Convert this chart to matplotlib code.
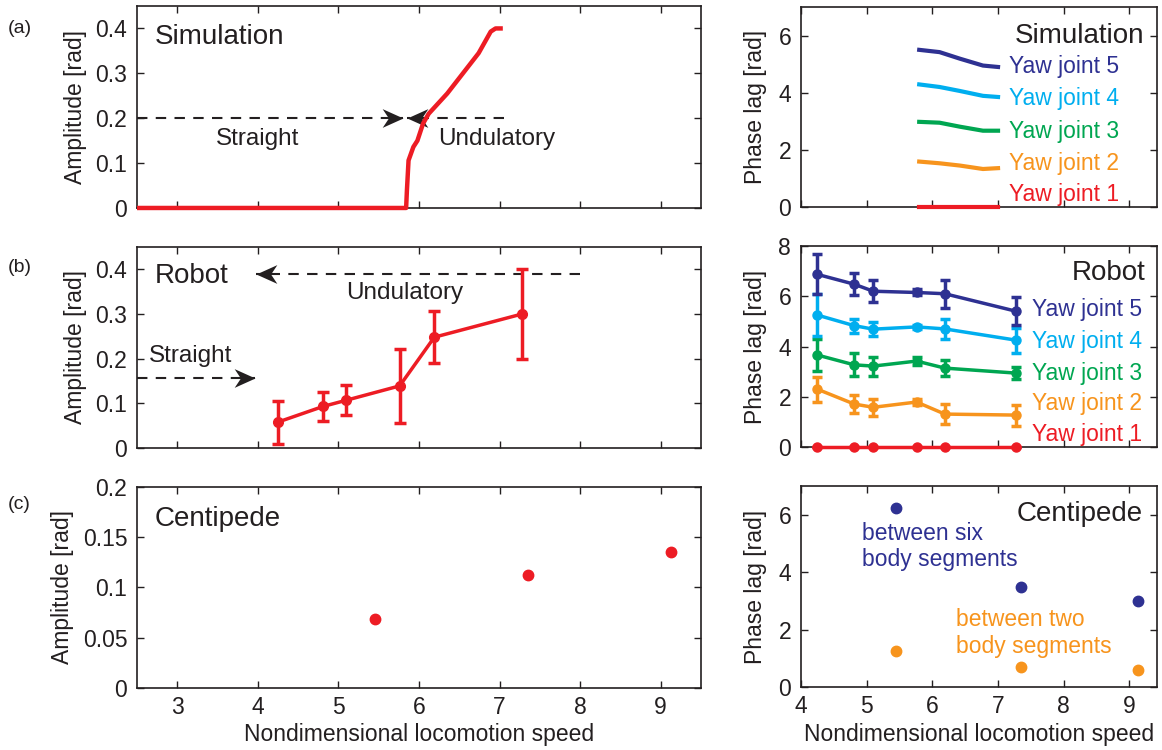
import numpy as np
import matplotlib
matplotlib.use('Agg')
import matplotlib.pyplot as plt
from matplotlib.path import Path

plt.rcParams['font.family'] = ['Liberation Sans', 'DejaVu Sans']

INK = '#231F20'
RED = '#ED1C24'
ORANGE = '#F7941D'
GREEN = '#00A651'
CYAN = '#00AEEF'
NAVY = '#2E3192'
JOINT_COLORS = [RED, ORANGE, GREEN, CYAN, NAVY]
JOINT_NAMES = ['Yaw joint 1', 'Yaw joint 2', 'Yaw joint 3', 'Yaw joint 4', 'Yaw joint 5']

# (a) simulation: amplitude vs speed
sim_speed = [2.5, 5.84, 5.85, 5.87, 5.93, 5.98, 6.05, 6.12, 6.35, 6.74, 6.89, 6.95, 7.04]
sim_amp = [0.0, 0.0, 0.04, 0.106, 0.136, 0.15, 0.188, 0.21, 0.255, 0.345, 0.393, 0.40, 0.40]
# simulated phase lag per joint
sim_lag_speed = [5.8, 6.11, 6.42, 6.77, 7.0]
sim_lag = [
    [0.0, 0.0, 0.0, 0.0, 0.0],
    [1.59, 1.53, 1.45, 1.33, 1.36],
    [2.98, 2.95, 2.81, 2.67, 2.67],
    [4.29, 4.20, 4.06, 3.89, 3.85],
    [5.50, 5.42, 5.19, 4.95, 4.90],
]

# (b) robot experiments
robot_speed = [4.25, 4.81, 5.10, 5.76, 6.19, 7.28]
robot_amp = [0.058, 0.093, 0.107, 0.139, 0.248, 0.300]
robot_amp_err = [0.048, 0.032, 0.033, 0.083, 0.058, 0.100]
robot_lag = [
    [0.0, 0.0, 0.0, 0.0, 0.0, 0.0],
    [2.30, 1.71, 1.58, 1.79, 1.31, 1.27],
    [3.66, 3.27, 3.22, 3.42, 3.14, 2.94],
    [5.25, 4.83, 4.69, 4.78, 4.70, 4.25],
    [6.87, 6.48, 6.20, 6.15, 6.10, 5.40],
]
robot_lag_err = [
    [0.0, 0.0, 0.0, 0.0, 0.0, 0.0],
    [0.50, 0.35, 0.34, 0.13, 0.41, 0.42],
    [0.63, 0.46, 0.38, 0.17, 0.33, 0.25],
    [0.83, 0.28, 0.28, 0.07, 0.39, 0.50],
    [0.80, 0.43, 0.43, 0.12, 0.55, 0.56],
]

# (c) centipede measurements
cent_speed = [5.45, 7.35, 9.13]
cent_amp = [0.069, 0.112, 0.135]
cent_lag_six = [6.22, 3.50, 3.00]
cent_lag_two = [1.25, 0.70, 0.60]

# gait-transition arrows: (y, tail x, tip x)
sim_arrows = [(0.2, 2.5, 5.80), (0.2, 7.05, 5.85)]
robot_arrows = [(0.389, 8.0, 3.98), (0.157, 2.5, 3.96)]

# stealth-style arrowheads pointing right / left, tip at origin
_head = [(0, 0), (-1.0, 0.45), (-0.7, 0), (-1.0, -0.45), (0, 0)]
HEAD_R = Path(_head, [Path.MOVETO, Path.LINETO, Path.LINETO, Path.LINETO, Path.CLOSEPOLY])
HEAD_L = Path([(-x, y) for x, y in _head], HEAD_R.codes)

TICK_FS = 16.5
LABEL_FS = 16.5
NOTE_FS = 17.5
TITLE_FS = 20


def style(ax, xlim, ylim, yticks, xticks, show_x):
    ax.set_xlim(*xlim)
    ax.set_ylim(*ylim)
    ax.set_yticks(yticks)
    ax.set_xticks(xticks)
    ax.tick_params(direction='in', length=5, width=1, top=True, right=True,
                   labelsize=TICK_FS, colors=INK)
    ax.tick_params(axis='y', pad=7)
    ax.tick_params(axis='x', pad=6)
    if not show_x:
        ax.set_xticklabels([])
    for s in ax.spines.values():
        s.set_color(INK)
        s.set_linewidth(1.2)


def draw_arrows(ax, arrows, head_size):
    for y, x_tail, x_tip in arrows:
        ax.plot([x_tail, x_tip], [y, y], color=INK, lw=1.5, ls=(0, (5, 4)))
        head = HEAD_R if x_tip > x_tail else HEAD_L
        ax.plot([x_tip], [y], marker=head, ms=head_size, color=INK, mec=INK, mew=0)


fig = plt.figure(figsize=(11.62, 7.5), dpi=100)
L = [0.1179, 0.4854]
R = [0.6893, 0.3064]
rows_l = [(0.7227, 0.2693), (0.4027, 0.268), (0.0827, 0.268)]
rows_r = [(0.724, 0.2667), (0.404, 0.268), (0.084, 0.268)]

ax_a = fig.add_axes([L[0], rows_l[0][0], L[1], rows_l[0][1]])
ax_b = fig.add_axes([L[0], rows_l[1][0], L[1], rows_l[1][1]])
ax_c = fig.add_axes([L[0], rows_l[2][0], L[1], rows_l[2][1]])
ax_d = fig.add_axes([R[0], rows_r[0][0], R[1], rows_r[0][1]])
ax_e = fig.add_axes([R[0], rows_r[1][0], R[1], rows_r[1][1]])
ax_f = fig.add_axes([R[0], rows_r[2][0], R[1], rows_r[2][1]])

left_xticks = [3, 4, 5, 6, 7, 8, 9]
right_xticks = [4, 5, 6, 7, 8, 9]

# ---- (a) simulation amplitude ----
ax = ax_a
ax.plot(sim_speed, sim_amp, color=RED, lw=3.2, solid_capstyle='butt', zorder=3, clip_on=False)
draw_arrows(ax, sim_arrows, 30)
ax.text(2.72, 0.382, 'Simulation', fontsize=TITLE_FS, color=INK, va='center')
ax.text(4.0, 0.154, 'Straight', fontsize=NOTE_FS, color=INK, ha='center', va='center')
ax.text(6.97, 0.154, 'Undulatory', fontsize=NOTE_FS, color=INK, ha='center', va='center')
style(ax, (2.5, 9.5), (0, 0.45), [0, 0.1, 0.2, 0.3, 0.4], left_xticks, False)
ax.set_yticklabels(['0', '0.1', '0.2', '0.3', '0.4'])
ax.set_ylabel('Amplitude [rad]', fontsize=LABEL_FS, color=INK, labelpad=6)

# ---- (b) robot amplitude ----
ax = ax_b
ax.errorbar(robot_speed, robot_amp, yerr=robot_amp_err, color=RED, lw=2.5, marker='o', ms=7,
            elinewidth=2.5, capsize=4, capthick=2.5, zorder=3)
draw_arrows(ax, robot_arrows, 30)
ax.text(2.72, 0.384, 'Robot', fontsize=TITLE_FS, color=INK, va='center')
ax.text(3.16, 0.205, 'Straight', fontsize=NOTE_FS, color=INK, ha='center', va='center')
ax.text(5.82, 0.347, 'Undulatory', fontsize=NOTE_FS, color=INK, ha='center', va='center')
style(ax, (2.5, 9.5), (0, 0.45), [0, 0.1, 0.2, 0.3, 0.4], left_xticks, False)
ax.set_yticklabels(['0', '0.1', '0.2', '0.3', '0.4'])
ax.set_ylabel('Amplitude [rad]', fontsize=LABEL_FS, color=INK, labelpad=6)

# ---- (c) centipede amplitude ----
ax = ax_c
ax.plot(cent_speed, cent_amp, ls='none', marker='o', ms=7.5, color=RED, mec=RED)
ax.text(2.72, 0.168, 'Centipede', fontsize=TITLE_FS, color=INK, va='center')
style(ax, (2.5, 9.5), (0, 0.2), [0, 0.05, 0.1, 0.15, 0.2], left_xticks, True)
ax.set_yticklabels(['0', '0.05', '0.1', '0.15', '0.2'])
ax.set_ylabel('Amplitude [rad]', fontsize=LABEL_FS, color=INK, labelpad=6)
ax.set_xlabel('Nondimensional locomotion speed', fontsize=LABEL_FS, color=INK, labelpad=3)

# ---- simulation phase lag ----
ax = ax_d
for j in range(5):
    ax.plot(sim_lag_speed, sim_lag[j], color=JOINT_COLORS[j], lw=3.0, zorder=3, clip_on=False)
sim_label_y = [0.45, 1.53, 2.63, 3.78, 4.90]
for j in range(5):
    ax.text(7.17, sim_label_y[j], JOINT_NAMES[j], fontsize=LABEL_FS, color=JOINT_COLORS[j], va='center')
ax.text(9.22, 6.0, 'Simulation', fontsize=TITLE_FS, color=INK, ha='right', va='center')
style(ax, (4, 9.42), (0, 7), [0, 2, 4, 6], right_xticks, False)
ax.set_ylabel('Phase lag [rad]', fontsize=LABEL_FS, color=INK, labelpad=8)

# ---- robot phase lag ----
ax = ax_e
for j in range(5):
    ax.errorbar(robot_speed, robot_lag[j], yerr=robot_lag_err[j], color=JOINT_COLORS[j], lw=2.5,
                marker='o', ms=6.5, elinewidth=2.5, capsize=3.5, capthick=2.5, zorder=3 + j,
                clip_on=False)
robot_label_y = [0.49, 1.72, 2.94, 4.20, 5.46]
for j in range(5):
    ax.text(7.52, robot_label_y[j], JOINT_NAMES[j], fontsize=LABEL_FS, color=JOINT_COLORS[j], va='center')
ax.text(9.25, 6.94, 'Robot', fontsize=TITLE_FS, color=INK, ha='right', va='center')
style(ax, (4, 9.42), (0, 8), [0, 2, 4, 6, 8], right_xticks, False)
ax.set_ylabel('Phase lag [rad]', fontsize=LABEL_FS, color=INK, labelpad=8)

# ---- centipede phase lag ----
ax = ax_f
ax.plot(cent_speed, cent_lag_six, ls='none', marker='o', ms=7.5, color=NAVY)
ax.plot(cent_speed, cent_lag_two, ls='none', marker='o', ms=7.5, color=ORANGE)
ax.text(4.93, 4.9, 'between six\nbody segments', fontsize=LABEL_FS, color=NAVY, va='center',
        linespacing=1.2)
ax.text(6.36, 1.88, 'between two\nbody segments', fontsize=LABEL_FS, color=ORANGE, va='center',
        linespacing=1.2)
ax.text(9.2, 6.03, 'Centipede', fontsize=TITLE_FS, color=INK, ha='right', va='center')
style(ax, (4, 9.42), (0, 7), [0, 2, 4, 6], right_xticks, True)
ax.set_ylabel('Phase lag [rad]', fontsize=LABEL_FS, color=INK, labelpad=8)
ax.set_xlabel('Nondimensional locomotion speed', fontsize=LABEL_FS, color=INK, labelpad=3)

# panel letters
for letter, y in [('(a)', 0.962), ('(b)', 0.643), ('(c)', 0.327)]:
    fig.text(0.007, y, letter, fontsize=14, color=INK, va='center')

fig.savefig('out.png', dpi=100)
